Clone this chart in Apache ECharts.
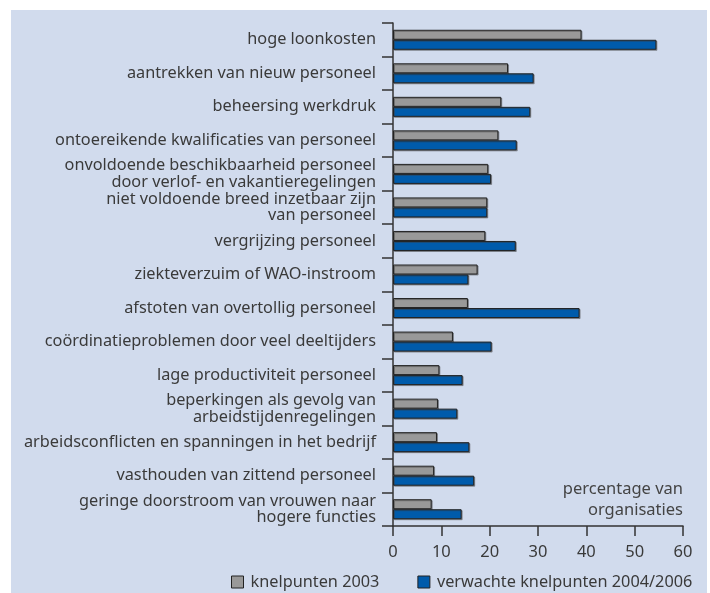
<!DOCTYPE html>
<html>
<head>
<meta charset="utf-8">
<script src="https://cdn.jsdelivr.net/npm/echarts@6/dist/echarts.min.js"></script>
<style>
  html, body { margin: 0; padding: 0; background: #ffffff; }
  #chart { width: 710px; height: 593px; }
</style>
</head>
<body>
<div id="chart"></div>
<script>
const categories = [
  'hoge loonkosten',
  'aantrekken van nieuw personeel',
  'beheersing werkdruk',
  'ontoereikende kwalificaties van personeel',
  'onvoldoende beschikbaarheid personeel\ndoor verlof- en vakantieregelingen',
  'niet voldoende breed inzetbaar zijn\nvan personeel',
  'vergrijzing personeel',
  'ziekteverzuim of WAO-instroom',
  'afstoten van overtollig personeel',
  'coördinatieproblemen door veel deeltijders',
  'lage productiviteit personeel',
  'beperkingen als gevolg van\narbeidstijdenregelingen',
  'arbeidsconflicten en spanningen in het bedrijf',
  'vasthouden van zittend personeel',
  'geringe doorstroom van vrouwen naar\nhogere functies'
];
const knelpunten2003 = [39.0, 23.8, 22.4, 21.8, 19.7, 19.5, 19.1, 17.5, 15.5, 12.4, 9.6, 9.3, 9.1, 8.5, 8.0];
const verwacht2004 = [54.5, 29.1, 28.4, 25.6, 20.3, 19.5, 25.4, 15.6, 38.6, 20.4, 14.4, 13.3, 15.8, 16.8, 14.2];
const seriesNames = ['knelpunten 2003', 'verwachte knelpunten 2004/2006'];
const xTicks = [0, 10, 20, 30, 40, 50, 60];
const axisNote = ['percentage van', 'organisaties'];

const FONT = '"Noto Sans", sans-serif';
const TEXT = '#3a3a3a';
const FS = 16.3;

function barSeries(name, data, color) {
  return {
    name,
    type: 'bar',
    data,
    barWidth: 10,
    barGap: '0%',
    itemStyle: {
      color,
      borderColor: '#222222',
      borderWidth: 1,
      shadowColor: 'rgba(60,60,60,0.45)',
      shadowOffsetX: 1,
      shadowOffsetY: 1,
      shadowBlur: 0
    }
  };
}

const chart = echarts.init(document.getElementById('chart'), null, { renderer: 'canvas' });
chart.setOption({
  animation: false,
  backgroundColor: '#ffffff',
  textStyle: { fontFamily: FONT },
  graphic: [
    {
      type: 'rect',
      z: -10,
      shape: { x: 11, y: 10, width: 696, height: 583 },
      style: { fill: '#d1dbed' }
    },
    ...axisNote.map((line, i) => ({
      type: 'text',
      right: 27,
      top: 481 + i * 21,
      style: {
        text: line,
        font: '16.5px ' + FONT,
        fill: '#444444'
      }
    }))
  ],
  grid: { left: 393, right: 27, top: 23, bottom: 67, containLabel: false },
  legend: {
    left: 226,
    top: 569,
    itemWidth: 12,
    itemHeight: 12,
    itemGap: 38,
    icon: 'rect',
    textStyle: { color: TEXT, fontSize: FS, fontFamily: FONT, padding: [0, 0, 0, 2] },
    data: seriesNames.map((n) => ({ name: n, itemStyle: { borderColor: '#222', borderWidth: 1, shadowBlur: 0, shadowOffsetX: 0, shadowOffsetY: 0 } }))
  },
  xAxis: {
    type: 'value',
    min: 0,
    max: 60,
    interval: 10,
    axisLine: { show: true, lineStyle: { color: '#333333', width: 1.5 } },
    axisTick: { show: true, length: 10, lineStyle: { color: '#333333', width: 1.5 } },
    axisLabel: {
      color: TEXT,
      fontSize: 16.5,
      margin: 18,
      fontFamily: FONT,
      formatter: (v) => (xTicks.includes(v) ? String(v) : '')
    },
    splitLine: { show: false }
  },
  yAxis: {
    type: 'category',
    inverse: true,
    data: categories,
    axisLine: { show: true, lineStyle: { color: '#333333', width: 1.5 } },
    axisTick: { show: true, length: 11, alignWithLabel: false, lineStyle: { color: '#333333', width: 1.5 } },
    axisLabel: {
      color: TEXT,
      fontSize: FS,
      lineHeight: 16.5,
      margin: 17,
      fontFamily: FONT,
      interval: 0
    }
  },
  series: [
    barSeries(seriesNames[0], knelpunten2003, '#999999'),
    barSeries(seriesNames[1], verwacht2004, '#005bab')
  ]
});
</script>
</body>
</html>
